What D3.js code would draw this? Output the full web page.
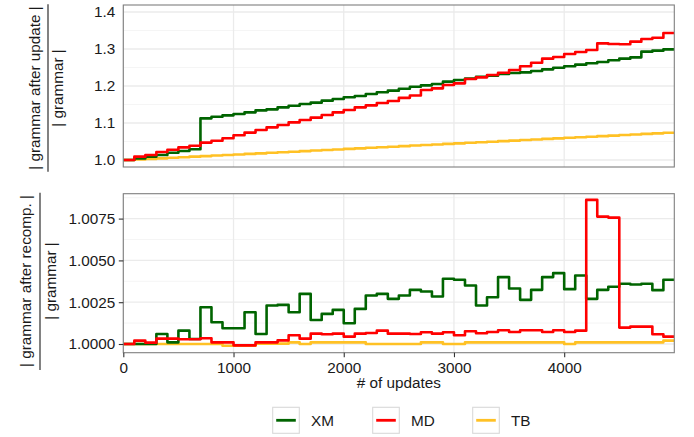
<!DOCTYPE html>
<html>
<head>
<meta charset="utf-8">
<script src="https://cdn.jsdelivr.net/npm/d3@7"></script>
<style>
  body { margin: 0; background: #fff; }
  svg { display: block; font-family: "Liberation Sans", Arial, Helvetica, sans-serif; }
</style>
</head>
<body>
<svg id="chart" width="694" height="437"></svg>
<script>
// Number of updates at which each step starts
const updates = [0,100,200,300,400,500,600,700,800,900,
  1000,1100,1200,1300,1400,1500,1600,1700,1800,1900,
  2000,2100,2200,2300,2400,2500,2600,2700,2800,2900,
  3000,3100,3200,3300,3400,3500,3600,3700,3800,3900,
  4000,4100,4200,4300,4400,4500,4600,4700,4800,4900];
const lastUpdate = 4999;

// |grammar after update| / |grammar|
const xmTop = [1.000,1.004,1.009,1.0135,1.0197,1.0243,1.029,1.1126,1.117,1.1207,
  1.1243,1.1288,1.1342,1.1369,1.1423,1.1468,1.1514,1.155,1.1604,1.165,
  1.1694,1.173,1.1784,1.183,1.1874,1.1925,1.198,1.2018,1.2054,1.2117,
  1.2162,1.2198,1.2252,1.228,1.2324,1.2351,1.2369,1.2405,1.245,1.2495,
  1.2532,1.2577,1.2613,1.2649,1.2694,1.2739,1.2775,1.2928,1.2955,1.2991];
const mdTop = [1.000,1.009,1.0135,1.0216,1.0279,1.034,1.0387,1.047,1.052,1.0586,
  1.0667,1.074,1.081,1.0883,1.0946,1.1018,1.108,1.1144,1.1216,1.1288,
  1.135,1.1423,1.1477,1.154,1.1595,1.168,1.1745,1.189,1.1937,1.2027,
  1.2072,1.219,1.2234,1.2297,1.236,1.2432,1.2532,1.263,1.2739,1.2784,
  1.2865,1.292,1.2973,1.3153,1.3135,1.313,1.3198,1.327,1.3306,1.3432];
const tbTop = [1.000,1.0015,1.003,1.0045,1.006,1.0075,1.009,1.0105,1.012,1.0135,
  1.015,1.0165,1.018,1.0195,1.021,1.0225,1.024,1.0255,1.027,1.0285,
  1.030,1.0315,1.033,1.0345,1.036,1.0375,1.039,1.0405,1.042,1.0435,
  1.045,1.0465,1.048,1.0495,1.051,1.0525,1.054,1.0555,1.057,1.0585,
  1.060,1.0615,1.063,1.0645,1.066,1.0675,1.069,1.0705,1.072,1.0735];

// |grammar after recomp.| / |grammar|
const xmBottom = [1.0000,1.0000,1.0000,1.0006,1.0001,1.0008,1.0003,1.0022,1.0013,1.00094,
  1.00094,1.0019,1.0006,1.0023,1.00234,1.0019,1.0030,1.00144,1.0018,1.00204,
  1.00124,1.0021,1.0029,1.0030,1.0027,1.0029,1.00324,1.00314,1.00284,1.0039,
  1.00384,1.0035,1.0023,1.0028,1.0040,1.00332,1.00264,1.00324,1.0040,1.00424,
  1.00328,1.0041,1.0027,1.00324,1.00342,1.0036,1.00356,1.0036,1.00322,1.00384];
const mdBottom = [1.0000,1.0002,1.00008,1.00032,1.00032,1.00028,1.00028,1.00034,1.0001,1.0001,
  0.99992,0.99992,1.0001,1.0001,1.00022,1.00052,1.00032,1.00062,1.00058,1.00062,
  1.00044,1.00062,1.00066,1.0008,1.00062,1.00062,1.0006,1.0007,1.00062,1.0007,
  1.00052,1.00076,1.00064,1.00072,1.00082,1.00072,1.00082,1.00082,1.00072,1.00082,
  1.00072,1.0008,1.00862,1.00762,1.00756,1.00098,1.00104,1.00104,1.00058,1.00044];
const tbBottom = [1.0000,1.0000,1.0000,1.0000,1.0000,1.0000,1.0000,1.0000,1.0000,0.9999,
  0.9999,0.9999,1.00002,1.00002,1.00002,1.0001,1.0000,1.0001,1.0001,1.0001,
  1.0001,1.0001,1.0000,1.0000,1.0000,1.0000,1.0000,1.0001,1.0001,1.0000,
  1.0000,1.0001,1.0001,1.0001,1.0001,1.0001,1.0001,1.0001,1.0001,1.0001,
  1.0000,1.0001,1.0001,1.0001,1.0001,1.0001,1.0001,1.0001,1.0001,1.0002];

const seriesNames = ["XM", "MD", "TB"];
const seriesColors = { XM: "#006400", MD: "#ff0000", TB: "#ffc125" };

const xTicks = [0, 1000, 2000, 3000, 4000];
const topTicks = [1.0, 1.1, 1.2, 1.3, 1.4];
const topMinor = [1.05, 1.15, 1.25, 1.35];
const bottomTicks = [1.0, 1.0025, 1.005, 1.0075];
const bottomMinor = [1.00125, 1.00375, 1.00625, 1.00875];

const svg = d3.select("#chart");
const FONT = 15.3;
const textColor = "#1a1a1a";

const left = 123.3, right = 674.3;
const x = d3.scaleLinear().domain([0, lastUpdate]).range([left, right]);

function drawPanel(opts) {
  const { id, top, bottom, y, major, minor, series, showTicks } = opts;
  const g = svg.append("g");

  g.append("clipPath").attr("id", id)
    .append("rect").attr("x", left).attr("y", top)
    .attr("width", right - left).attr("height", bottom - top);

  // grid
  g.append("g").selectAll("line").data(minor).join("line")
    .attr("x1", left).attr("x2", right)
    .attr("y1", d => y(d)).attr("y2", d => y(d))
    .attr("stroke", "#f4f4f4").attr("stroke-width", 0.9);
  g.append("g").selectAll("line").data(major).join("line")
    .attr("x1", left).attr("x2", right)
    .attr("y1", d => y(d)).attr("y2", d => y(d))
    .attr("stroke", "#ebebeb").attr("stroke-width", 1.3);
  g.append("g").selectAll("line").data(xTicks).join("line")
    .attr("x1", d => x(d)).attr("x2", d => x(d))
    .attr("y1", top).attr("y2", bottom)
    .attr("stroke", "#ebebeb").attr("stroke-width", 1.3);

  // step lines
  const line = d3.line()
    .x(d => x(d[0])).y(d => y(d[1]))
    .curve(d3.curveStepAfter);
  const order = ["TB", "XM", "MD"];
  const lines = g.append("g").attr("clip-path", `url(#${id})`);
  order.forEach(name => {
    const vals = series[name];
    const pts = updates.map((u, i) => [u, vals[i]]);
    pts.push([lastUpdate, vals[vals.length - 1]]);
    lines.append("path")
      .attr("d", line(pts))
      .attr("fill", "none")
      .attr("stroke", seriesColors[name])
      .attr("stroke-width", 2.6)
      .attr("stroke-linejoin", "round");
  });

  // border
  g.append("rect").attr("x", left).attr("y", top)
    .attr("width", right - left).attr("height", bottom - top)
    .attr("fill", "none").attr("stroke", "#7f7f7f").attr("stroke-width", 1.1);

  // y axis
  const yAxis = d3.axisLeft(y).tickValues(major)
    .tickFormat(opts.fmt)
    .tickSize(showTicks ? 4.5 : 0)
    .tickPadding(showTicks ? 3.5 : 8);
  const ya = g.append("g").attr("transform", `translate(${left},0)`).call(yAxis);
  ya.select(".domain").remove();
  ya.selectAll("line").attr("stroke", "#333").attr("stroke-width", 1.1);
  ya.selectAll("text").attr("font-size", FONT).attr("fill", textColor)
    .attr("font-family", "Liberation Sans, Arial, sans-serif");

  if (showTicks) {
    const xAxis = d3.axisBottom(x).tickValues(xTicks).tickFormat(d3.format("d"))
      .tickSize(4.5).tickPadding(5.4);
    const xa = g.append("g").attr("transform", `translate(0,${bottom})`).call(xAxis);
    xa.select(".domain").remove();
    xa.selectAll("line").attr("stroke", "#333").attr("stroke-width", 1.1);
    xa.selectAll("text").attr("font-size", FONT).attr("fill", textColor)
      .attr("font-family", "Liberation Sans, Arial, sans-serif");
  }
}

const yTop = d3.scaleLinear().domain([0.98108, 1.41892]).range([167, 5]);
const yBottom = d3.scaleLinear().domain([0.99948, 1.008989]).range([352.7, 193.7]);

drawPanel({
  id: "clip-top", top: 5, bottom: 167, y: yTop,
  major: topTicks, minor: topMinor, fmt: d3.format(".1f"),
  series: { XM: xmTop, MD: mdTop, TB: tbTop }, showTicks: false
});
drawPanel({
  id: "clip-bottom", top: 193.7, bottom: 352.7, y: yBottom,
  major: bottomTicks, minor: bottomMinor, fmt: d3.format(".4f"),
  series: { XM: xmBottom, MD: mdBottom, TB: tbBottom }, showTicks: true
});

// fraction-style y titles
function fractionTitle(numer, xNum, xBar, xDen, cy, barTop, barBottom) {
  const g = svg.append("g");
  g.append("text").attr("transform", `translate(${xNum},${cy}) rotate(-90)`)
    .attr("text-anchor", "middle").attr("font-size", FONT).attr("fill", textColor)
    .text(numer);
  g.append("line").attr("x1", xBar).attr("x2", xBar)
    .attr("y1", barTop).attr("y2", barBottom)
    .attr("stroke", "#1a1a1a").attr("stroke-width", 1.1);
  g.append("text").attr("transform", `translate(${xDen},${cy}) rotate(-90)`)
    .attr("text-anchor", "middle").attr("font-size", FONT).attr("fill", textColor)
    .text("| grammar |");
}
fractionTitle("| grammar after update |", 39.5, 48, 63, 88, 4.3, 171.7);
fractionTitle("| grammar after recomp. |", 31, 40, 55.5, 281, 192.7, 370);

// x title
svg.append("text").attr("x", (left + right) / 2).attr("y", 388)
  .attr("text-anchor", "middle").attr("font-size", FONT).attr("fill", textColor)
  .text("# of updates");

// legend
const legend = svg.append("g");
seriesNames.forEach((name, i) => {
  const lx = 272.7 + i * 100;
  const item = legend.append("g").attr("transform", `translate(${lx},407.3)`);
  item.append("rect").attr("width", 26.6).attr("height", 26)
    .attr("fill", "#fff").attr("stroke", "#d9d9d9").attr("stroke-width", 1.1);
  item.append("line").attr("x1", 3.5).attr("x2", 23.1).attr("y1", 13).attr("y2", 13)
    .attr("stroke", seriesColors[name]).attr("stroke-width", 2.8);
  item.append("text").attr("x", 38.3).attr("y", 18.5)
    .attr("font-size", FONT).attr("fill", textColor).text(name);
});
</script>
</body>
</html>
